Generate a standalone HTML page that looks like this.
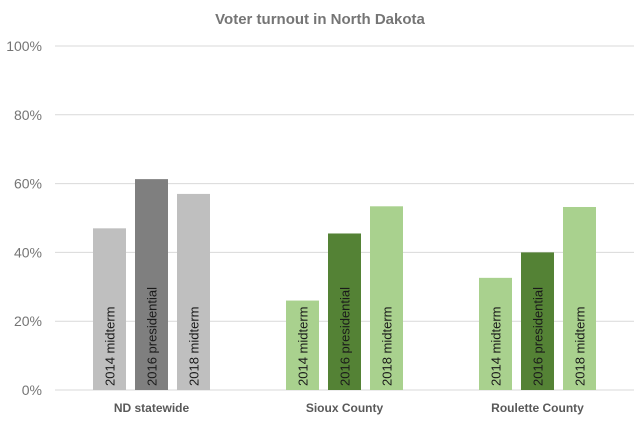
<!DOCTYPE html>
<html><head><meta charset="utf-8"><style>
body{margin:0;background:#fff;}
svg{display:block;font-family:"Liberation Sans",sans-serif;}
</style></head><body>
<svg id="chart" width="640" height="421">
<text x="320" y="24" text-anchor="middle" font-size="15" font-weight="bold" fill="#757575">Voter turnout in North Dakota</text>
<g id="grid"></g><g id="bars"></g><g id="labels"></g>
</svg>
<script>
const categories=["ND statewide","Sioux County","Roulette County"];
const series=["2014 midterm","2016 presidential","2018 midterm"];
const values2014=[47,26,32.6];
const values2016=[61.3,45.5,40];
const values2018=[57,53.4,53.2];
const ticks=[0,20,40,60,80,100];
const tickLabels=["0%","20%","40%","60%","80%","100%"];
const ns="http://www.w3.org/2000/svg";
const x0=55,x1=634,y0=390,y100=46;
const yS=v=>y0-(y0-y100)*v/100;
const gw=(x1-x0)/categories.length;
const barW=33,step=42;
function mk(t,a,p){const e=document.createElementNS(ns,t);for(const k in a)e.setAttribute(k,a[k]);p.appendChild(e);return e;}
const grid=document.getElementById('grid');
ticks.forEach((t,i)=>{
 const l=mk('line',{x1:x0,x2:x1,y1:yS(t),y2:yS(t),stroke:'#d9d9d9','stroke-width':1},grid);
 
 
 const tx=mk('text',{x:42,y:yS(t)+5,'text-anchor':'end','font-size':14,fill:'#757575'},grid);
 tx.textContent=tickLabels[i];
 
 
});
const all=[values2014,values2016,values2018];
const bars=document.getElementById('bars'),labs=document.getElementById('labels');
categories.forEach((c,ci)=>{
 const cx=x0+gw*(ci+0.5);
 all.forEach((vals,si)=>{
  const bx=cx+(si-1)*step-barW/2;
  const gray=ci===0;
  const fill=si===1?(gray?'#7f7f7f':'#548235'):(gray?'#bfbfbf':'#a9d18e');
  const r=mk('rect',{x:bx,y:yS(vals[ci]),width:barW,height:y0-yS(vals[ci]),fill:fill},bars);
  
  
  const tx=mk('text',{x:0,y:0,'font-size':13,fill:'#1a1a1a',transform:`translate(${bx+barW/2+5},${y0-4}) rotate(-90)`},labs);
  tx.textContent=series[si];
  
  
 });
 const t=mk('text',{x:cx,y:412,'text-anchor':'middle','font-size':12,'font-weight':'bold',fill:'#595959'},labs);
 t.textContent=c;
 
 
});
</script>
</body></html>
